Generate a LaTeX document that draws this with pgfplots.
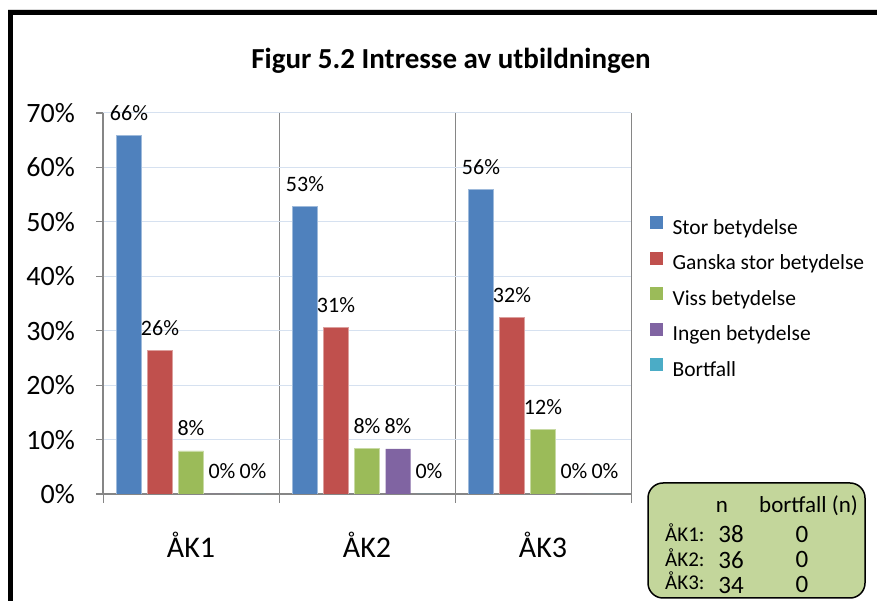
\documentclass[border=0pt]{standalone}
\usepackage{fontspec}
\setmainfont{Carlito}
\usepackage{pgfplots}
\pgfplotsset{compat=1.18}
\definecolor{cblue}{HTML}{4F81BD}
\definecolor{cred}{HTML}{C0504D}
\definecolor{cgreen}{HTML}{9BBB59}
\definecolor{cpurple}{HTML}{8064A2}
\definecolor{ccyan}{HTML}{4BACC6}
\definecolor{axgray}{HTML}{868686}
\definecolor{gridblue}{HTML}{D6E1F0}
\definecolor{boxgreen}{HTML}{C3D69B}
\begin{document}
\begin{tikzpicture}
\useasboundingbox (0pt,0pt) rectangle (877pt,601pt);
\begin{scope}
\clip (0pt,0pt) rectangle (877pt,601pt);
\draw[black!15, line width=1pt] (8pt,591.8pt) -- (880pt,591.8pt);
\draw[black, line width=5pt] (10.8pt,-10pt) -- (10.8pt,588.2pt) -- (890pt,588.2pt);
\end{scope}
\node[anchor=base, font=\fontsize{29}{32}\selectfont\bfseries] at (451pt,532pt) {Figur 5.2 Intresse av utbildningen};
\begin{axis}[
  at={(103pt,107pt)}, anchor=south west,
  scale only axis, width=528pt, height=381pt,
  ybar=6pt, bar width=25pt,
  xmin=-0.5, xmax=2.5, ymin=0, ymax=70,
  axis x line*=bottom, axis y line*=left,
  axis line style={draw=axgray, line width=1.2pt},
  xtick={0,1,2}, xticklabels={ÅK1,ÅK2,ÅK3},
  major x tick style={draw=none},
  minor xtick={-0.5,0.5,1.5,2.5},
  xminorgrids, minor x grid style={draw=axgray, line width=1pt},
  minor tick length=9pt, major tick length=7pt, tick align=outside,
  minor tick style={draw=axgray, line width=1pt},
  major tick style={draw=axgray, line width=1.2pt},
  ytick={0,10,...,70},
  ymajorgrids, major y grid style={draw=gridblue, line width=1pt},
  /pgf/number format/assume math mode=true,
  yticklabel={\pgfmathprintnumber{\tick}\%},
  yticklabel style={font=\fontsize{28}{30}\selectfont, inner sep=0pt, anchor=east, xshift=-21pt},
  xticklabel style={font=\fontsize{30}{32}\selectfont, inner sep=0pt, anchor=base, yshift=-57pt},
  nodes near coords={\pgfmathprintnumber[fixed,precision=0]{\pgfplotspointmeta}\%},
  every node near coord/.append style={font=\fontsize{22}{24}\selectfont, anchor=base, inner sep=0pt, yshift=15pt, black},
  legend style={at={(1.036,0.73)}, anchor=north west, draw=none, fill=none,
    font=\fontsize{21.5}{23}\selectfont, row sep=12.6pt, inner sep=0pt,
    nodes={inner sep=0pt, text height=15pt, text depth=5pt}},
  legend cell align=left,
  legend image code/.code={\fill[#1, draw=none] (0pt,0pt) rectangle (13pt,13pt); \path (22pt,0pt);},
]
\addplot[fill=cblue, draw=cblue!55!white, line width=0.8pt] coordinates {(0,65.8) (1,52.8) (2,55.9)};
\addplot[fill=cred, draw=cred!55!white, line width=0.8pt] coordinates {(0,26.3) (1,30.6) (2,32.4)};
\addplot[fill=cgreen, draw=cgreen!55!white, line width=0.8pt] coordinates {(0,7.9) (1,8.3) (2,11.8)};
\addplot[fill=cpurple, draw=none] coordinates {(0,0) (1,8.3) (2,0)};
\addplot[fill=ccyan, draw=none] coordinates {(0,0) (1,0) (2,0)};
\legend{Stor betydelse, Ganska stor betydelse, Viss betydelse, Ingen betydelse, Bortfall}
\end{axis}
\draw[black, line width=1.5pt, fill=boxgreen, rounded corners=15pt] (648pt,3pt) rectangle (865pt,118pt);
\node[anchor=base, inner sep=0pt, font=\fontsize{23}{25}\selectfont] at (722pt,88pt) {n};
\node[anchor=base west, inner sep=0pt, font=\fontsize{23}{25}\selectfont] at (759pt,88pt) {bortfall (n)};
\node[anchor=base west, inner sep=0pt, font=\fontsize{21}{23}\selectfont] at (665pt,59pt) {ÅK1:};
\node[anchor=base west, inner sep=0pt, font=\fontsize{21}{23}\selectfont] at (665pt,34pt) {ÅK2:};
\node[anchor=base west, inner sep=0pt, font=\fontsize{21}{23}\selectfont] at (665pt,11pt) {ÅK3:};
\node[anchor=base, inner sep=0pt, font=\fontsize{25}{27}\selectfont] at (731pt,58pt) {38};
\node[anchor=base, inner sep=0pt, font=\fontsize{25}{27}\selectfont] at (731pt,32pt) {36};
\node[anchor=base, inner sep=0pt, font=\fontsize{25}{27}\selectfont] at (731pt,7pt) {34};
\node[anchor=base, inner sep=0pt, font=\fontsize{25}{27}\selectfont] at (802pt,58pt) {0};
\node[anchor=base, inner sep=0pt, font=\fontsize{25}{27}\selectfont] at (802pt,33pt) {0};
\node[anchor=base, inner sep=0pt, font=\fontsize{25}{27}\selectfont] at (802pt,8pt) {0};
\end{tikzpicture}
\end{document}
